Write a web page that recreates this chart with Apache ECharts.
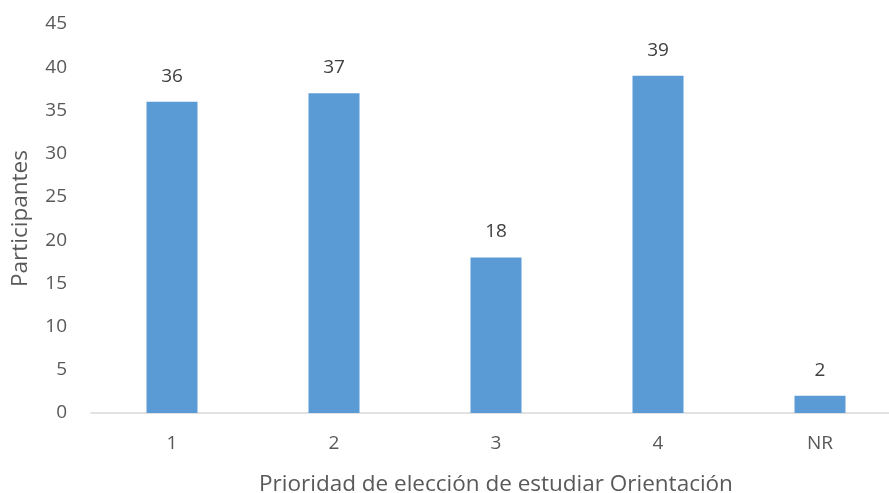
<!DOCTYPE html>
<html><head><meta charset="utf-8">
<script src="https://cdn.jsdelivr.net/npm/echarts@6/dist/echarts.min.js"></script>
<style>html,body{margin:0;padding:0;background:#fff}#c{width:889px;height:493px}</style>
</head><body><div id="c"></div>
<script>
const categories = ['1','2','3','4','NR'];
const participantes = [36,37,18,39,2];
const yTitle = 'Participantes';
const xTitle = 'Prioridad de elección de estudiar Orientación';
const font = '"Open Sans", "Noto Sans", sans-serif';
const chart = echarts.init(document.getElementById('c'));
chart.setOption({
  animation:false,
  textStyle:{fontFamily:font},
  grid:{left:91,right:-12,top:24,bottom:80,outerBoundsMode:'none',containLabel:false},
  xAxis:{type:'category',data:categories,
    name:xTitle,nameLocation:'middle',nameGap:60,
    nameTextStyle:{fontSize:22.5,color:'#595959',fontFamily:font},
    axisLine:{lineStyle:{color:'#d9d9d9',width:1.5}},
    axisTick:{show:false},
    axisLabel:{color:'#595959',fontSize:19,margin:21,fontFamily:font}},
  yAxis:{type:'value',min:0,max:45,interval:5,
    name:yTitle,nameLocation:'middle',nameGap:59,
    nameTextStyle:{fontSize:22.5,color:'#595959',fontFamily:font},
    splitLine:{show:false},axisLine:{show:false},axisTick:{show:false},
    axisLabel:{color:'#595959',fontSize:19,margin:24,fontFamily:font}},
  series:[{type:'bar',data:participantes,barWidth:51,
    itemStyle:{color:'#5b9bd5'},
    label:{show:true,position:'top',distance:16,color:'#404040',fontSize:19,fontFamily:font}}]
});
</script></body></html>
